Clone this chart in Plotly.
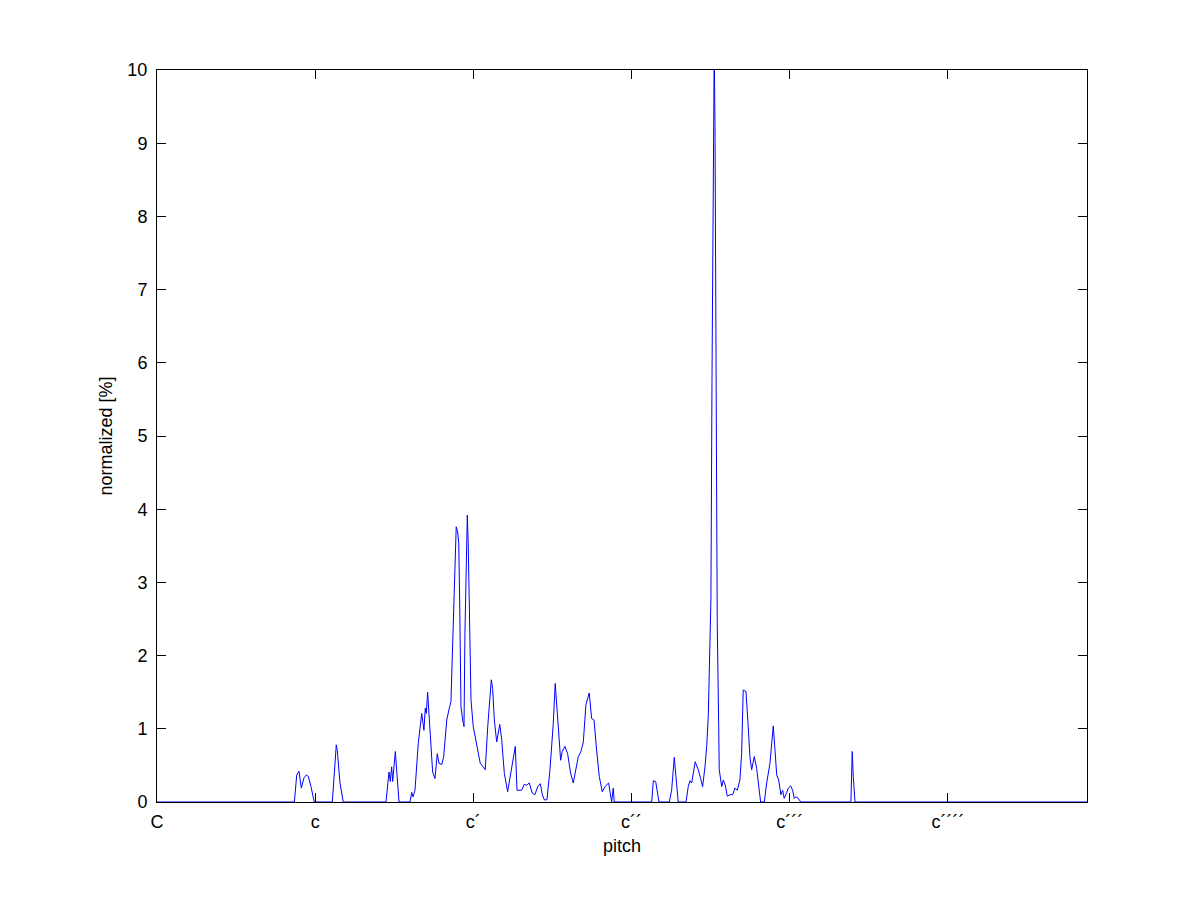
import plotly.graph_objects as go

# pitch in semitones above C (C = 0), value in %
pitch = [
    0.00, 10.42, 10.60, 10.77, 10.95, 11.15, 11.33, 11.48, 11.68, 11.93,
    13.30, 13.45, 13.60, 13.68, 13.88, 14.13,
    17.37, 17.60, 17.70, 17.80, 17.88, 18.08, 18.18, 18.36,
    19.19, 19.32, 19.42, 19.57, 19.82, 20.08, 20.25, 20.35, 20.43, 20.53,
    20.63, 20.78, 20.91, 21.09, 21.26, 21.39, 21.60, 21.75, 21.98, 22.17,
    22.30, 22.40, 22.53, 22.61, 22.70, 22.81, 22.89, 22.96, 23.06, 23.19,
    23.29, 23.36, 23.46, 23.54, 23.61, 23.72, 23.82, 23.99, 24.25, 24.52,
    24.75, 24.90, 25.09, 25.26, 25.36, 25.46, 25.59, 25.77, 26.00, 26.15,
    26.35, 26.60, 26.83, 27.03, 27.18, 27.31, 27.66, 27.86, 28.04, 28.24,
    28.47, 28.67, 28.88, 29.08, 29.23, 29.38, 29.58, 29.81, 30.06, 30.21,
    30.32, 30.47, 30.62, 30.74, 30.95, 31.15, 31.38, 31.58, 31.76, 31.96,
    32.16, 32.34, 32.54, 32.79, 32.97, 33.15, 33.35, 33.55, 33.78, 33.98,
    34.26, 34.42, 34.49, 34.61, 34.69,
    37.53, 37.65, 37.83, 38.08,
    38.86, 39.04, 39.24, 39.37, 39.54,
    40.13, 40.30, 40.43, 40.56, 40.83, 41.06, 41.24, 41.39, 41.57, 41.70,
    41.82, 42.02, 42.10, 42.15, 42.21, 42.27, 42.33, 42.38, 42.46, 42.50,
    42.61, 42.65, 42.84, 42.96, 43.11, 43.26, 43.47, 43.67, 43.84, 44.02,
    44.22, 44.35, 44.47, 44.68, 44.85, 44.98, 45.11, 45.31, 45.49, 45.66,
    45.79, 46.07, 46.25, 46.50, 46.63, 46.75, 46.86, 47.01, 47.16, 47.33,
    47.46, 47.58, 47.77, 47.89, 48.07, 48.22, 48.34, 48.47, 48.65, 48.83,
    52.64, 52.74, 52.82, 52.95, 70.55,
]
normalized = [
    0.00, 0.00, 0.37, 0.42, 0.19, 0.33, 0.37, 0.35, 0.21, 0.00,
    0.00, 0.46, 0.78, 0.70, 0.26, 0.00,
    0.00, 0.41, 0.28, 0.48, 0.28, 0.69, 0.43, 0.00,
    0.00, 0.13, 0.07, 0.16, 0.80, 1.21, 0.98, 1.28, 1.21, 1.50,
    1.21, 0.71, 0.41, 0.32, 0.66, 0.53, 0.51, 0.62, 1.12, 1.28,
    1.37, 1.98, 2.76, 3.21, 3.76, 3.69, 3.53, 2.76, 1.30, 1.12,
    1.03, 2.30, 3.21, 3.92, 3.53, 2.21, 1.39, 1.03, 0.80, 0.53,
    0.48, 0.44, 1.03, 1.48, 1.67, 1.55, 1.12, 0.82, 1.06, 0.85,
    0.39, 0.14, 0.39, 0.62, 0.76, 0.16, 0.16, 0.24, 0.23, 0.26,
    0.12, 0.10, 0.21, 0.25, 0.10, 0.03, 0.03, 0.44, 1.07, 1.62,
    1.35, 0.89, 0.57, 0.69, 0.76, 0.66, 0.39, 0.26, 0.44, 0.62,
    0.69, 0.82, 1.33, 1.49, 1.14, 1.12, 0.71, 0.35, 0.14, 0.21,
    0.26, 0.03, 0.00, 0.19, 0.00,
    0.00, 0.29, 0.28, 0.00,
    0.00, 0.16, 0.61, 0.35, 0.00,
    0.00, 0.21, 0.29, 0.26, 0.55, 0.44, 0.32, 0.21, 0.48, 0.76,
    1.17, 2.76, 5.72, 7.09, 9.05, 10.30, 9.22, 7.09, 5.72, 2.44,
    1.03, 0.44, 0.21, 0.30, 0.23, 0.08, 0.10, 0.10, 0.19, 0.16,
    0.30, 0.66, 1.53, 1.51, 1.03, 0.62, 0.44, 0.62, 0.46, 0.14,
    0.00, 0.00, 0.26, 0.53, 0.78, 1.04, 0.76, 0.37, 0.30, 0.10,
    0.16, 0.05, 0.13, 0.19, 0.22, 0.16, 0.05, 0.07, 0.05, 0.00,
    0.00, 0.69, 0.35, 0.00, 0.00,
]

tick_pos = [0, 12, 24, 36, 48, 60]
tick_text = ["C", "c", "c´", "c´´", "c´´´", "c´´´´"]
y_ticks = list(range(0, 11))

fig = go.Figure()
fig.add_trace(go.Scatter(
    x=pitch, y=normalized, mode="lines",
    line=dict(color="#0000ff", width=1),
    showlegend=False, hoverinfo="skip",
))

font = dict(family="Liberation Sans, Arial, sans-serif", size=18, color="black")

fig.update_layout(
    width=1185, height=885,
    margin=dict(l=149, r=106, t=62, b=91),
    paper_bgcolor="white", plot_bgcolor="white",
    font=font,
    showlegend=False,
)
fig.update_xaxes(
    range=[0, 70.55], tickmode="array", tickvals=tick_pos, ticktext=tick_text,
    ticks="inside", ticklen=9, tickwidth=1, tickcolor="black",
    showline=True, linecolor="black", linewidth=1, mirror="ticks",
    showgrid=False, zeroline=False, ticklabelstandoff=3,
    title=dict(text="pitch", standoff=8, font=font),
    tickfont=font,
)
fig.update_yaxes(
    range=[0, 10], tickmode="array", tickvals=y_ticks,
    ticks="inside", ticklen=9, tickwidth=1, tickcolor="black",
    showline=True, linecolor="black", linewidth=1, mirror="ticks",
    showgrid=False, zeroline=False, ticklabelstandoff=5,
    title=dict(text="normalized [%]", standoff=10, font=font),
    tickfont=font,
)

fig.write_html("out.html")
